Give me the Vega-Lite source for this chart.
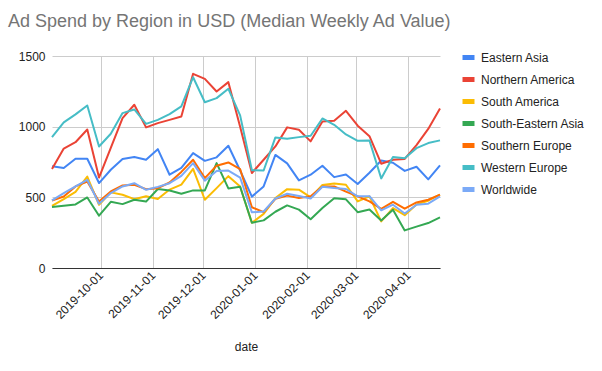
{
  "$schema": "https://vega.github.io/schema/vega-lite/v6.json",
  "width": 388,
  "height": 212,
  "autosize": {"type": "none"},
  "padding": {"left": 52, "top": 56, "right": 162, "bottom": 103},
  "background": "white",
  "config": {"font": "Liberation Sans", "view": {"stroke": null}},
  "title": {
    "text": "Ad Spend by Region in USD (Median Weekly Ad Value)",
    "anchor": "start",
    "frame": "group",
    "dx": -44,
    "offset": 4,
    "baseline": "alphabetic",
    "fontSize": 18,
    "fontWeight": "normal",
    "color": "#757575"
  },
  "data": {
    "values": [
      {"date": "2019-09-02", "Eastern Asia": 720, "Northern America": 700, "South America": 440, "South-Eastern Asia": 431, "Southern Europe": 478, "Western Europe": 926, "Worldwide": 478},
      {"date": "2019-09-09", "Eastern Asia": 707, "Northern America": 845, "South America": 487, "South-Eastern Asia": 441, "Southern Europe": 506, "Western Europe": 1030, "Worldwide": 530},
      {"date": "2019-09-16", "Eastern Asia": 773, "Northern America": 890, "South America": 539, "South-Eastern Asia": 450, "Southern Europe": 577, "Western Europe": 1087, "Worldwide": 577},
      {"date": "2019-09-23", "Eastern Asia": 773, "Northern America": 980, "South America": 647, "South-Eastern Asia": 499, "Southern Europe": 612, "Western Europe": 1150, "Worldwide": 624},
      {"date": "2019-09-30", "Eastern Asia": 601, "Northern America": 640, "South America": 447, "South-Eastern Asia": 370, "Southern Europe": 471, "Western Europe": 860, "Worldwide": 455},
      {"date": "2019-10-07", "Eastern Asia": 695, "Northern America": 850, "South America": 535, "South-Eastern Asia": 468, "Southern Europe": 542, "Western Europe": 950, "Worldwide": 530},
      {"date": "2019-10-14", "Eastern Asia": 771, "Northern America": 1060, "South America": 518, "South-Eastern Asia": 452, "Southern Europe": 584, "Western Europe": 1096, "Worldwide": 577},
      {"date": "2019-10-21", "Eastern Asia": 785, "Northern America": 1155, "South America": 487, "South-Eastern Asia": 483, "Southern Europe": 589, "Western Europe": 1122, "Worldwide": 600},
      {"date": "2019-10-28", "Eastern Asia": 766, "Northern America": 995, "South America": 508, "South-Eastern Asia": 470, "Southern Europe": 558, "Western Europe": 1020, "Worldwide": 553},
      {"date": "2019-11-04", "Eastern Asia": 841, "Northern America": 1025, "South America": 488, "South-Eastern Asia": 559, "Southern Europe": 565, "Western Europe": 1048, "Worldwide": 574},
      {"date": "2019-11-11", "Eastern Asia": 660, "Northern America": 1048, "South America": 555, "South-Eastern Asia": 548, "Southern Europe": 605, "Western Europe": 1089, "Worldwide": 600},
      {"date": "2019-11-18", "Eastern Asia": 708, "Northern America": 1072, "South America": 590, "South-Eastern Asia": 525, "Southern Europe": 680, "Western Europe": 1143, "Worldwide": 652},
      {"date": "2019-11-25", "Eastern Asia": 813, "Northern America": 1374, "South America": 701, "South-Eastern Asia": 549, "Southern Europe": 766, "Western Europe": 1350, "Worldwide": 742},
      {"date": "2019-12-02", "Eastern Asia": 758, "Northern America": 1338, "South America": 483, "South-Eastern Asia": 549, "Southern Europe": 636, "Western Europe": 1173, "Worldwide": 618},
      {"date": "2019-12-09", "Eastern Asia": 783, "Northern America": 1249, "South America": 565, "South-Eastern Asia": 742, "Southern Europe": 724, "Western Europe": 1202, "Worldwide": 686},
      {"date": "2019-12-16", "Eastern Asia": 865, "Northern America": 1315, "South America": 650, "South-Eastern Asia": 563, "Southern Europe": 747, "Western Europe": 1268, "Worldwide": 689},
      {"date": "2019-12-23", "Eastern Asia": 690, "Northern America": 1000, "South America": 577, "South-Eastern Asia": 575, "Southern Europe": 700, "Western Europe": 1080, "Worldwide": 640},
      {"date": "2019-12-30", "Eastern Asia": 505, "Northern America": 672, "South America": 320, "South-Eastern Asia": 320, "Southern Europe": 430, "Western Europe": 692, "Worldwide": 394},
      {"date": "2020-01-06", "Eastern Asia": 577, "Northern America": 766, "South America": 383, "South-Eastern Asia": 337, "Southern Europe": 395, "Western Europe": 690, "Worldwide": 400},
      {"date": "2020-01-13", "Eastern Asia": 800, "Northern America": 860, "South America": 495, "South-Eastern Asia": 398, "Southern Europe": 489, "Western Europe": 924, "Worldwide": 492},
      {"date": "2020-01-20", "Eastern Asia": 740, "Northern America": 995, "South America": 558, "South-Eastern Asia": 443, "Southern Europe": 512, "Western Europe": 914, "Worldwide": 525},
      {"date": "2020-01-27", "Eastern Asia": 620, "Northern America": 978, "South America": 554, "South-Eastern Asia": 413, "Southern Europe": 495, "Western Europe": 926, "Worldwide": 510},
      {"date": "2020-02-03", "Eastern Asia": 660, "Northern America": 896, "South America": 500, "South-Eastern Asia": 345, "Southern Europe": 508, "Western Europe": 936, "Worldwide": 492},
      {"date": "2020-02-10", "Eastern Asia": 723, "Northern America": 1037, "South America": 587, "South-Eastern Asia": 424, "Southern Europe": 577, "Western Europe": 1058, "Worldwide": 575},
      {"date": "2020-02-17", "Eastern Asia": 643, "Northern America": 1042, "South America": 598, "South-Eastern Asia": 494, "Southern Europe": 577, "Western Europe": 1013, "Worldwide": 566},
      {"date": "2020-02-24", "Eastern Asia": 662, "Northern America": 1112, "South America": 589, "South-Eastern Asia": 486, "Southern Europe": 540, "Western Europe": 945, "Worldwide": 559},
      {"date": "2020-03-02", "Eastern Asia": 594, "Northern America": 1007, "South America": 471, "South-Eastern Asia": 395, "Southern Europe": 507, "Western Europe": 900, "Worldwide": 507},
      {"date": "2020-03-09", "Eastern Asia": 674, "Northern America": 933, "South America": 507, "South-Eastern Asia": 414, "Southern Europe": 471, "Western Europe": 902, "Worldwide": 508},
      {"date": "2020-03-16", "Eastern Asia": 761, "Northern America": 738, "South America": 330, "South-Eastern Asia": 336, "Southern Europe": 418, "Western Europe": 634, "Worldwide": 408},
      {"date": "2020-03-23", "Eastern Asia": 745, "Northern America": 766, "South America": 424, "South-Eastern Asia": 412, "Southern Europe": 468, "Western Europe": 785, "Worldwide": 448},
      {"date": "2020-03-30", "Eastern Asia": 687, "Northern America": 772, "South America": 374, "South-Eastern Asia": 266, "Southern Europe": 420, "Western Europe": 776, "Worldwide": 386},
      {"date": "2020-04-06", "Eastern Asia": 716, "Northern America": 870, "South America": 450, "South-Eastern Asia": 293, "Southern Europe": 464, "Western Europe": 848, "Worldwide": 448},
      {"date": "2020-04-13", "Eastern Asia": 627, "Northern America": 984, "South America": 476, "South-Eastern Asia": 318, "Southern Europe": 483, "Western Europe": 884, "Worldwide": 455},
      {"date": "2020-04-20", "Eastern Asia": 726, "Northern America": 1128, "South America": 519, "South-Eastern Asia": 358, "Southern Europe": 519, "Western Europe": 903, "Worldwide": 507}
    ]
  },
  "transform": [
    {"fold": ["Eastern Asia", "Northern America", "South America", "South-Eastern Asia", "Southern Europe", "Western Europe", "Worldwide"], "as": ["region", "value"]}
  ],
  "mark": {"type": "line", "strokeWidth": 2, "strokeJoin": "round"},
  "encoding": {
    "x": {
      "field": "date",
      "type": "temporal",
      "scale": {
        "type": "utc",
        "nice": false,
        "domain": [{"year": 2019, "month": 9, "date": 2, "utc": true}, {"year": 2020, "month": 4, "date": 20, "utc": true}]
      },
      "axis": {
        "values": [
          {"year": 2019, "month": 10, "date": 1, "utc": true},
          {"year": 2019, "month": 11, "date": 1, "utc": true},
          {"year": 2019, "month": 12, "date": 1, "utc": true},
          {"year": 2020, "month": 1, "date": 1, "utc": true},
          {"year": 2020, "month": 2, "date": 1, "utc": true},
          {"year": 2020, "month": 3, "date": 1, "utc": true},
          {"year": 2020, "month": 4, "date": 1, "utc": true}
        ],
        "format": "%Y-%m-%d",
        "labelAngle": -45,
        "labelAlign": "right",
        "labelBaseline": "middle",
        "labelPadding": 5,
        "labelFontSize": 12,
        "labelColor": "#222222",
        "labelBound": false,
        "labelOverlap": false,
        "ticks": false,
        "grid": true,
        "gridColor": "#cccccc",
        "domainColor": "#333333",
        "title": "date",
        "titleFontSize": 12,
        "titleFontWeight": "normal",
        "titleColor": "#222222",
        "titlePadding": 21
      }
    },
    "y": {
      "field": "value",
      "type": "quantitative",
      "scale": {"domain": [0, 1500], "nice": false},
      "axis": {
        "values": [0, 500, 1000, 1500],
        "format": "d",
        "title": null,
        "domain": false,
        "ticks": false,
        "gridColor": "#cccccc",
        "labelPadding": 7,
        "labelFontSize": 12,
        "labelColor": "#222222"
      }
    },
    "color": {
      "field": "region",
      "type": "nominal",
      "scale": {
        "domain": ["Eastern Asia", "Northern America", "South America", "South-Eastern Asia", "Southern Europe", "Western Europe", "Worldwide"],
        "range": ["#4285F4", "#EA4335", "#FBBC04", "#34A853", "#FF6D01", "#46BDC6", "#7BAAF7"]
      },
      "legend": {
        "orient": "none",
        "legendX": 408,
        "legendY": -7,
        "title": null,
        "padding": 0,
        "symbolType": "stroke",
        "symbolSize": 144,
        "symbolStrokeWidth": 5,
        "labelFontSize": 12,
        "labelColor": "#222222",
        "labelOffset": 4,
        "rowPadding": 1
      }
    }
  }
}
